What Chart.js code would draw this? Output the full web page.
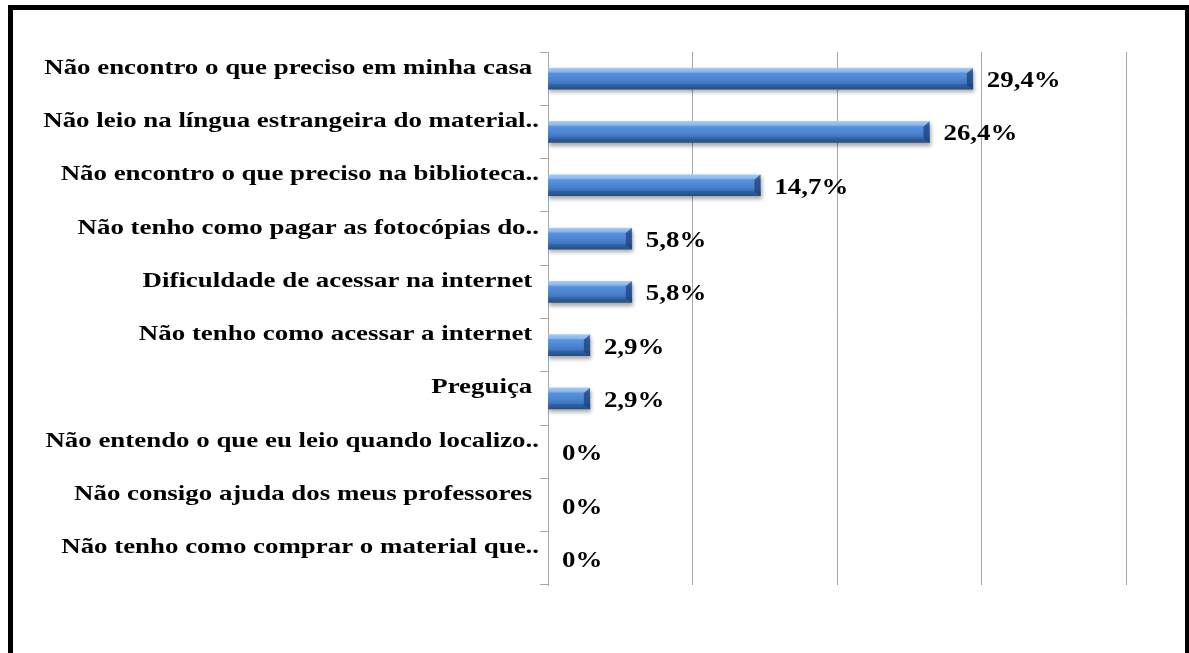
<!DOCTYPE html>
<html>
<head>
<meta charset="utf-8">
<script src="https://cdn.jsdelivr.net/npm/chart.js@4.4.1/dist/chart.umd.min.js"></script>
<style>
  html, body { margin: 0; padding: 0; background: #fff; }
  #wrap { width: 1189px; height: 653px; position: relative; }
</style>
</head>
<body>
<div id="wrap"><canvas id="barChart"></canvas></div>
<script>
// Chart data
const categories = [
    'Não encontro o que preciso em minha casa ',
    'Não leio na língua estrangeira do material..',
    'Não encontro o que preciso na biblioteca..',
    'Não tenho como pagar as fotocópias do..',
    'Dificuldade de acessar na internet ',
    'Não tenho como acessar a internet ',
    'Preguiça ',
    'Não entendo o que eu leio quando localizo..',
    'Não consigo ajuda dos meus professores ',
    'Não tenho como comprar o material que..'
];
const percentValues = [29.4, 26.4, 14.7, 5.8, 5.8, 2.9, 2.9, 0, 0, 0];
const axisMax = 40;

const serifFont = '"Liberation Serif", "Times New Roman", serif';
const BAR_H = 21;

// Blue "3D" gradient for each bar
function barGradient(context) {
    const chart = context.chart;
    const yScale = chart.scales.y;
    if (percentValues[context.dataIndex] === 0) return 'rgba(0,0,0,0)';
    if (!yScale || context.dataIndex === undefined) return '#4a86d6';
    const yc = yScale.getPixelForValue(context.dataIndex);
    if (!isFinite(yc)) return '#4a86d6';
    const g = chart.ctx.createLinearGradient(0, yc - BAR_H / 2, 0, yc + BAR_H / 2);
    g.addColorStop(0, '#a4cbf4');
    g.addColorStop(0.18, '#86b5ec');
    g.addColorStop(0.24, '#5a93dc');
    g.addColorStop(0.55, '#4a84d0');
    g.addColorStop(0.74, '#3e74bd');
    g.addColorStop(0.8, '#30629f');
    g.addColorStop(1, '#264f86');
    return g;
}

// Outer frame
const framePlugin = {
    id: 'frame',
    beforeDraw(chart) {
        const ctx = chart.ctx;
        ctx.save();
        ctx.fillStyle = '#000';
        ctx.fillRect(8, 5, 1181, 5);
        ctx.fillRect(8, 5, 5, 648);
        ctx.fillRect(1185, 5, 4, 648);
        ctx.restore();
    }
};

// Soft shadow under the bars
const barShadow = {
    id: 'barShadow',
    beforeDatasetDraw(chart) {
        const ctx = chart.ctx;
        ctx.save();
        ctx.shadowColor = 'rgba(0,0,0,0.35)';
        ctx.shadowBlur = 4;
        ctx.shadowOffsetX = 1;
        ctx.shadowOffsetY = 3;
    },
    afterDatasetDraw(chart) {
        chart.ctx.restore();
    }
};

// Bevel on the bar ends, category labels and value labels
const labelsPlugin = {
    id: 'labels',
    afterDatasetsDraw(chart) {
        const ctx = chart.ctx;
        const meta = chart.getDatasetMeta(0);
        const yScale = chart.scales.y;

        // right-end bevel
        meta.data.forEach((bar) => {
            const w = bar.x - bar.base;
            if (w < 2) return;
            const top = bar.y - bar.height / 2;
            const bot = bar.y + bar.height / 2;
            const b = Math.min(6, w / 2);
            ctx.save();
            ctx.fillStyle = 'rgba(30,65,120,0.75)';
            ctx.beginPath();
            ctx.moveTo(bar.x, top);
            ctx.lineTo(bar.x, bot);
            ctx.lineTo(bar.x - b, bot - 4);
            ctx.lineTo(bar.x - b, top + 5);
            ctx.closePath();
            ctx.fill();
            ctx.restore();
        });

        // category labels, drawn at the y axis tick positions (wide serif look)
        ctx.save();
        ctx.font = 'bold 21px ' + serifFont;
        ctx.fillStyle = '#000';
        ctx.textAlign = 'right';
        ctx.textBaseline = 'alphabetic';
        yScale.ticks.forEach((t, i) => {
            const y = yScale.getPixelForTick(i);
            ctx.save();
            ctx.translate(539, y - 5);
            ctx.scale(1.28, 1);
            ctx.fillText(yScale.getLabelForValue(t.value), 0, 0);
            ctx.restore();
        });
        ctx.restore();

        // value labels
        ctx.save();
        ctx.font = 'bold 24px ' + serifFont;
        ctx.fillStyle = '#000';
        ctx.textAlign = 'left';
        ctx.textBaseline = 'alphabetic';
        meta.data.forEach((bar, i) => {
            const v = percentValues[i];
            const txt = (v === 0 ? '0' : v.toFixed(1).replace('.', ',')) + '%';
            ctx.save();
            ctx.translate(bar.x + 14, bar.y + 8.5);
            ctx.scale(1.12, 1);
            ctx.fillText(txt, 0, 0);
            ctx.restore();
        });
        ctx.restore();
    }
};

function initChart() {
    const ctx = document.getElementById('barChart').getContext('2d');
    new Chart(ctx, {
        type: 'bar',
        data: {
            labels: categories,
            datasets: [{
                data: percentValues,
                backgroundColor: barGradient,
                borderWidth: 0,
                barThickness: BAR_H
            }]
        },
        options: {
            indexAxis: 'y',
            responsive: true,
            maintainAspectRatio: false,
            animation: false,
            layout: { padding: { left: 0, top: 52, right: 63, bottom: 68 } },
            plugins: {
                legend: { display: false },
                tooltip: { enabled: false }
            },
            scales: {
                x: {
                    min: 0,
                    max: axisMax,
                    ticks: { display: false, stepSize: 10 },
                    border: { display: false },
                    grid: { color: '#a6a6a6', lineWidth: 1, drawTicks: false },
                    afterFit(scale) { scale.height = 0; }
                },
                y: {
                    ticks: { display: false, autoSkip: false },
                    border: { display: true, color: '#a6a6a6', width: 1 },
                    grid: { drawOnChartArea: false, color: '#a6a6a6', tickLength: 8, offset: true },
                    afterFit(scale) { scale.width = 548; }
                }
            }
        },
        plugins: [framePlugin, barShadow, labelsPlugin]
    });
}

document.addEventListener('DOMContentLoaded', initChart);
</script>
</body>
</html>
